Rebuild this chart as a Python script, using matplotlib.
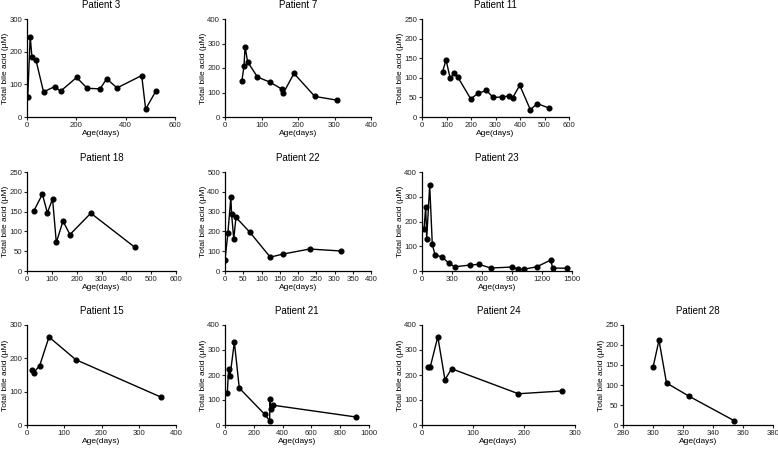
import matplotlib
matplotlib.use("Agg")
import matplotlib.pyplot as plt
from matplotlib.ticker import MultipleLocator

plt.rcParams["font.family"] = ["Liberation Sans", "DejaVu Sans"]

# values (age in days, total bile acid in uM)
p3_age = [3, 13, 20, 36, 67, 112, 136, 201, 244, 296, 323, 365, 465, 481, 522]
p3_tba = [62, 246, 184, 175, 77, 93, 79, 121, 88, 86, 117, 89, 127, 24, 79]

p7_age = [46, 52, 55, 62, 89, 122, 157, 160, 189, 246, 306]
p7_tba = [145, 207, 287, 225, 163, 143, 113, 98, 178, 84, 69]

p11_age = [84, 98, 115, 132, 145, 199, 228, 263, 290, 328, 357, 370, 399, 442, 471, 518]
p11_tba = [115, 146, 99, 112, 103, 46, 60, 68, 50, 51, 54, 49, 81, 19, 34, 23]

p18_age = [27, 62, 82, 103, 118, 145, 173, 257, 434]
p18_tba = [151, 194, 147, 182, 72, 126, 92, 146, 60]

p22_age = [0, 8, 16, 18, 24, 30, 68, 124, 160, 232, 318]
p22_tba = [55, 193, 372, 289, 161, 271, 196, 70, 86, 111, 101]

p23_age = [20, 37, 47, 77, 103, 130, 200, 270, 327, 480, 570, 687, 900,
           963, 1017, 1147, 1287, 1307, 1453]
p23_tba = [168, 260, 131, 347, 108, 65, 57, 31, 17, 24, 27, 12, 16,
           7, 7, 17, 44, 12, 11]

p15_age = [14, 18, 34, 59, 131, 361]
p15_tba = [166, 157, 178, 264, 196, 83]

p21_age = [16, 25, 35, 65, 99, 275, 310, 312, 319, 335, 910]
p21_tba = [129, 223, 196, 332, 148, 43, 17, 105, 65, 79, 32]

p24_age = [12, 16, 31, 45, 58, 189, 274]
p24_tba = [233, 231, 353, 181, 225, 125, 136]

p28_age = [300, 304, 309, 324, 354]
p28_tba = [144, 212, 105, 72, 11]

W, H = 778, 449

# title, x, y, (xmin, xmax, xstep), (ymax, ystep), box in pixels (left, right, top, bottom)
panels = [
    ("Patient 3", p3_age, p3_tba, (0, 600, 200), (300, 100), (27, 175, 19, 117)),
    ("Patient 7", p7_age, p7_tba, (0, 400, 100), (400, 100), (225, 371, 19, 117)),
    ("Patient 11", p11_age, p11_tba, (0, 600, 100), (250, 50), (422, 569, 19, 117)),
    ("Patient 18", p18_age, p18_tba, (0, 600, 100), (250, 50), (27, 176, 172, 271)),
    ("Patient 22", p22_age, p22_tba, (0, 400, 50), (500, 100), (225, 371, 172, 271)),
    ("Patient 23", p23_age, p23_tba, (0, 1500, 300), (400, 100), (422, 572, 172, 271)),
    ("Patient 15", p15_age, p15_tba, (0, 400, 100), (300, 100), (27, 176, 325, 425)),
    ("Patient 21", p21_age, p21_tba, (0, 1000, 200), (400, 100), (225, 369, 325, 425)),
    ("Patient 24", p24_age, p24_tba, (0, 300, 100), (400, 100), (422, 575, 325, 425)),
    ("Patient 28", p28_age, p28_tba, (280, 380, 20), (250, 50), (623, 773, 325, 425)),
]

fig = plt.figure(figsize=(W / 100, H / 100), dpi=100)

for title, xs, ys, (x0, x1, xstep), (ymax, ystep), (l, r, t, b) in panels:
    ax = fig.add_axes([l / W, 1 - b / H, (r - l) / W, (b - t) / H])
    ax.plot(xs, ys, color="black", marker="o", markersize=3.4, linewidth=1.0)
    ax.set_xlim(x0, x1)
    ax.set_ylim(0, ymax)
    ax.xaxis.set_major_locator(MultipleLocator(xstep))
    ax.yaxis.set_major_locator(MultipleLocator(ystep))
    for side in ("top", "right"):
        ax.spines[side].set_visible(False)
    for side in ("left", "bottom"):
        ax.spines[side].set_linewidth(0.9)
    ax.tick_params(direction="out", length=2.5, width=0.8, pad=1,
                   labelsize=5.6, colors="#222222")
    ax.set_title(title, fontsize=7, pad=8)
    ax.set_xlabel("Age(days)", fontsize=6, labelpad=1)
    ax.set_ylabel("Total bile acid (\u00b5M)", fontsize=6, labelpad=0.5)

fig.savefig("out.png", dpi=100)
